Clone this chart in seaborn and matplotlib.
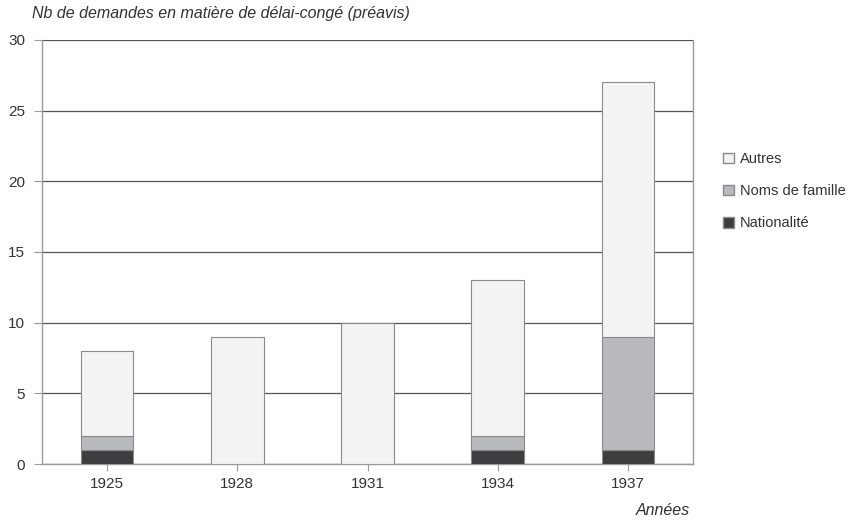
import matplotlib
matplotlib.use('Agg')
import matplotlib.pyplot as plt
import seaborn as sns
import numpy as np
from matplotlib.patches import Patch

# data
years = ['1925', '1928', '1931', '1934', '1937']
nationalite = [1, 0, 0, 1, 1]
noms_famille = [1, 0, 0, 1, 8]
autres = [6, 9, 10, 11, 18]

sns.set_style("white")
plt.rcParams['font.family'] = ['Liberation Sans', 'DejaVu Sans']

fig = plt.figure(figsize=(8.5, 5.24), dpi=100)
ax = fig.add_axes([0.0494, 0.1145, 0.766, 0.8092])

c_nat = '#3d3d3f'
c_noms = '#b8b9bd'
c_aut = '#f2f3f2'
edge = '#8a8a8a'

bottom_noms = np.array(nationalite)
bottom_aut = bottom_noms + np.array(noms_famille)

sns.barplot(x=years, y=nationalite, color=c_nat, width=0.405, edgecolor=edge,
            linewidth=0.8, saturation=1, ax=ax, zorder=3)
sns.barplot(x=years, y=noms_famille, bottom=bottom_noms, color=c_noms, width=0.405,
            edgecolor=edge, linewidth=0.8, saturation=1, ax=ax, zorder=3)
sns.barplot(x=years, y=autres, bottom=bottom_aut, color=c_aut, width=0.405,
            edgecolor=edge, linewidth=0.8, saturation=1, ax=ax, zorder=3)

ax.set_xlim(-0.5, 4.5)
ax.set_ylim(0, 30)
ax.set_yticks(range(0, 31, 5))
ax.yaxis.grid(True, color='#555555', linewidth=0.9, zorder=0)
ax.set_axisbelow(True)

for side in ['left', 'right', 'bottom']:
    ax.spines[side].set_visible(True)
    ax.spines[side].set_color('#9a9a9a')
    ax.spines[side].set_linewidth(1)
ax.spines['top'].set_visible(False)

ax.tick_params(axis='both', labelsize=11, colors='#333333', length=6, width=0.8,
               left=True, bottom=True)
ax.tick_params(axis='x', colors='#9a9a9a', labelcolor='#333333', length=5, pad=4)
ax.tick_params(axis='y', colors='#9a9a9a', labelcolor='#333333', length=6, pad=6)

ax.set_xlabel('')
ax.set_ylabel('')
fig.text(0.038, 0.975, 'Nb de demandes en matière de délai-congé (préavis)',
         fontsize=11.5, fontstyle='italic', color='#333333', ha='left', va='center')
fig.text(0.812, 0.025, 'Années', fontsize=11.5, fontstyle='italic',
         color='#333333', ha='right', va='center')

handles = [Patch(facecolor=c_aut, edgecolor=edge, label='Autres'),
           Patch(facecolor=c_noms, edgecolor=edge, label='Noms de famille'),
           Patch(facecolor=c_nat, edgecolor=edge, label='Nationalité')]
fig.legend(handles=handles, loc='upper left', bbox_to_anchor=(0.835, 0.735),
           frameon=False, fontsize=10.5, handlelength=0.75, handleheight=0.75,
           handletextpad=0.4, labelspacing=1.25, labelcolor='#333333')

plt.savefig('out.png', dpi=100)
plt.close()
